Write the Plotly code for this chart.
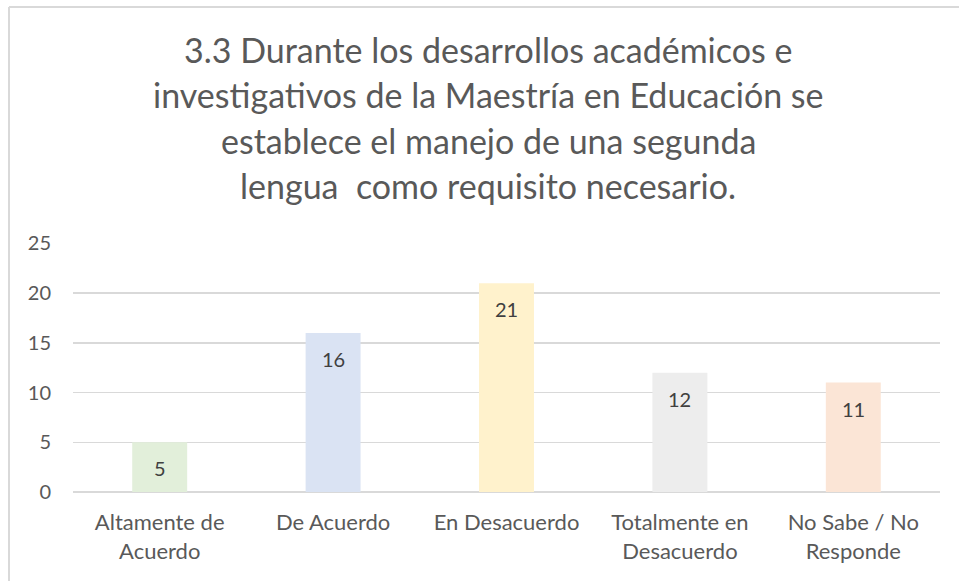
import plotly.graph_objects as go

categories = ["Altamente de<br>Acuerdo", "De Acuerdo", "En Desacuerdo",
              "Totalmente en<br>Desacuerdo", "No Sabe / No<br>Responde"]
values = [5, 16, 21, 12, 11]
colors = ["#E2EFDA", "#DAE3F3", "#FFF2CC", "#EDEDED", "#FBE5D6"]
title_lines = [
    "3.3 Durante los desarrollos académicos e",
    "investigativos de la Maestría en Educación se",
    "establece el manejo de una segunda",
    "lengua  como requisito necesario.",
]
y_ticks = [0, 5, 10, 15, 20, 25]

W, H = 959, 581
ML, MR, MT, MB = 73, 19, 243, 89
pw, ph = W - ML - MR, H - MT - MB

def px_x(p):
    return (p - ML) / pw

def px_y(p):
    return (H - MB - p) / ph

FONT = "Lato"
fig = go.Figure()
fig.add_trace(go.Bar(
    x=categories, y=values, marker=dict(color=colors, line=dict(width=0)),
    width=0.317, hoverinfo="skip",
))

annotations = []
for c, v in zip(categories, values):
    annotations.append(dict(x=c, y=v, xref="x", yref="y", text=str(v), showarrow=False,
                            yanchor="middle", yshift=-26,
                            font=dict(family=FONT, size=20, color="#404040")))
title_y = [50, 95, 140, 185]
for t, yy in zip(title_lines, title_y):
    annotations.append(dict(x=px_x(488), y=px_y(yy), xref="paper", yref="paper",
                            text=t, showarrow=False, xanchor="center", yanchor="middle",
                            font=dict(family=FONT, size=34, color="#595959")))

fig.update_layout(
    width=W, height=H,
    margin=dict(l=ML, r=MR, t=MT, b=MB, pad=0),
    paper_bgcolor="white", plot_bgcolor="white",
    showlegend=False,
    hovermode=False,
    annotations=annotations,
    font=dict(family=FONT, size=20, color="#595959"),
    xaxis=dict(showgrid=False, showline=False, zeroline=False, ticks="",
               ticklabelstandoff=15,
               tickfont=dict(family=FONT, size=22, color="#595959")),
    yaxis=dict(range=[0, 25.04], tickvals=y_ticks, showgrid=True, gridcolor="#D9D9D9",
               gridwidth=1.5, zeroline=True, zerolinecolor="#D9D9D9", zerolinewidth=1.5,
               showline=False, ticks="", ticklabelstandoff=21,
               tickfont=dict(family=FONT, size=20, color="#595959")),
    shapes=[
        dict(type="line", xref="paper", yref="paper", x0=px_x(9), x1=px_x(959),
             y0=px_y(7), y1=px_y(7), line=dict(color="#D9D9D9", width=2)),
        dict(type="line", xref="paper", yref="paper", x0=px_x(9), x1=px_x(9),
             y0=px_y(7), y1=px_y(581), line=dict(color="#D9D9D9", width=2)),
    ],
)
fig.write_html(
    "out.html",
    config={"displayModeBar": False, "staticPlot": True},
    post_script=("document.body.style.margin='0';"
                 "document.body.style.overflow='hidden';"
                 "document.documentElement.style.overflow='hidden';"),
)
